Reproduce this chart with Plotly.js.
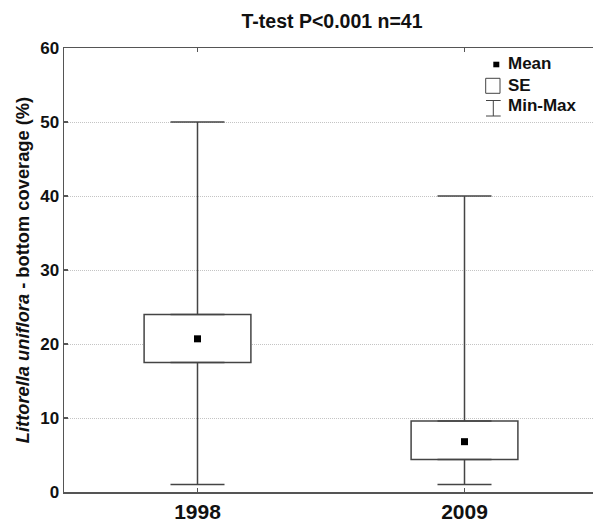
<!DOCTYPE html>
<html>
<head>
<meta charset="utf-8">
<script src="https://cdn.plot.ly/plotly-3.0.1.min.js"></script>
<style>
html,body{margin:0;padding:0;background:#fff;overflow:hidden;width:593px;height:523px;}
#chart{width:600px;height:523px;}
</style>
</head>
<body>
<div id="chart"></div>
<script>
// ---- data ----
const years   = ['1998', '2009'];
const means   = [20.7, 6.8];
const seLow   = [17.5, 4.4];
const seHigh  = [24.0, 9.6];
const minVals = [1, 1];
const maxVals = [50, 40];
const yTicks  = [0, 10, 20, 30, 40, 50, 60];
const legendLabels = ['Mean', 'SE', 'Min-Max'];

const LINE = '#444';
const AX = '#555';
const FONT = 'Liberation Sans, Arial, sans-serif';

const seSpan   = seHigh.map((h, i) => h - seLow[i]);
const upperErr = maxVals.map((m, i) => m - seHigh[i]);
const lowerErr = seLow.map((l, i) => l - minVals[i]);
const zeros    = years.map(() => 0);

const traces = [
  { // SE box
    type: 'bar', x: years, y: seSpan, base: seLow, width: 0.4,
    marker: {color: '#fff', line: {color: LINE, width: 1.5}},
    showlegend: false, hoverinfo: 'skip'
  },
  { // upper whisker (box top to max)
    type: 'scatter', mode: 'markers', x: years, y: seHigh,
    marker: {color: 'rgba(0,0,0,0)', size: 1},
    error_y: {type: 'data', symmetric: false, array: upperErr, arrayminus: zeros,
              width: 27, thickness: 1.5, color: LINE},
    showlegend: false, hoverinfo: 'skip'
  },
  { // lower whisker (min to box bottom)
    type: 'scatter', mode: 'markers', x: years, y: seLow,
    marker: {color: 'rgba(0,0,0,0)', size: 1},
    error_y: {type: 'data', symmetric: false, array: zeros, arrayminus: lowerErr,
              width: 27, thickness: 1.5, color: LINE},
    showlegend: false, hoverinfo: 'skip'
  },
  { // means
    type: 'scatter', mode: 'markers', x: years, y: means,
    marker: {symbol: 'square', size: 7, color: '#000'},
    showlegend: false
  }
];

// plot-area pixel geometry -> paper coords (for the hand-drawn legend)
const W = 600, H = 523;
const L = 64, R = 598, T = 48, B = 492;
const PX = p => (p - L) / (R - L);
const PY = p => (B - p) / (B - T);

const shapes = [
  // Mean symbol
  {type: 'rect', xref: 'paper', yref: 'paper', x0: PX(493.3), x1: PX(499.3), y0: PY(67.3), y1: PY(61.7),
   fillcolor: '#000', line: {width: 0}},
  // SE symbol
  {type: 'rect', xref: 'paper', yref: 'paper', x0: PX(485.7), x1: PX(500), y0: PY(93.3), y1: PY(78.3),
   fillcolor: 'rgba(0,0,0,0)', line: {color: LINE, width: 1}},
  // Min-Max symbol (I-beam)
  {type: 'line', xref: 'paper', yref: 'paper', x0: PX(493.3), x1: PX(493.3), y0: PY(116), y1: PY(100.5),
   line: {color: LINE, width: 1}},
  {type: 'line', xref: 'paper', yref: 'paper', x0: PX(486), x1: PX(500.7), y0: PY(100.5), y1: PY(100.5),
   line: {color: LINE, width: 1}},
  {type: 'line', xref: 'paper', yref: 'paper', x0: PX(486), x1: PX(500.7), y0: PY(116), y1: PY(116),
   line: {color: LINE, width: 1}}
];

const legendY = [64, 85, 105.5];
const annotations = legendLabels.map((t, i) => ({
  xref: 'paper', yref: 'paper', x: PX(506), y: PY(legendY[i]),
  xanchor: 'left', yanchor: 'middle', showarrow: false, text: t,
  font: {family: FONT, size: 17, color: '#111', weight: 'bold'}
}));

const layout = {
  width: W, height: H,
  margin: {l: L, r: W - R, t: T, b: H - B, pad: 0},
  paper_bgcolor: '#fff', plot_bgcolor: '#fff',
  font: {family: FONT, color: '#111'},
  title: {
    text: 'T-test P&lt;0.001 n=41',
    font: {family: FONT, size: 19.5, color: '#111', weight: 'bold'},
    xref: 'container', x: 332 / W, xanchor: 'center',
    yref: 'container', y: 1 - 21 / H, yanchor: 'middle'
  },
  xaxis: {
    type: 'category', range: [-0.5, 1.5], fixedrange: true,
    showline: true, linecolor: AX, linewidth: 1.5, mirror: 'ticks',
    ticks: 'inside', ticklen: 4, tickcolor: AX, tickwidth: 1.2,
    showgrid: false, zeroline: false,
    tickfont: {family: FONT, size: 21, color: '#111', weight: 'bold'}
  },
  yaxis: {
    range: [0, 60], tickvals: yTicks, fixedrange: true,
    showline: true, linecolor: AX, linewidth: 1.5, mirror: false,
    ticks: 'inside', ticklen: 4, tickcolor: AX, tickwidth: 1.2,
    showgrid: true, gridcolor: '#c4c4c4', gridwidth: 1, griddash: '1px,1px',
    zeroline: false,
    tickfont: {family: FONT, size: 17, color: '#111', weight: 'bold'},
    title: {
      text: '<i>Littorella uniflora</i> - bottom coverage (%)',
      font: {family: FONT, size: 18.3, color: '#111', weight: 'bold'},
      standoff: 6
    }
  },
  shapes: shapes,
  annotations: annotations,
  showlegend: false
};

Plotly.newPlot('chart', traces, layout, {displayModeBar: false, staticPlot: true});
</script>
</body>
</html>
